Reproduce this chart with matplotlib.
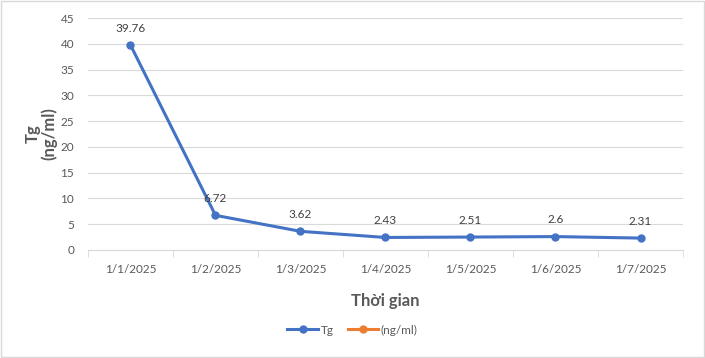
import matplotlib
matplotlib.use("Agg")
import matplotlib.pyplot as plt
from matplotlib.patches import Rectangle
import numpy as np

dates = ["1/1/2025", "1/2/2025", "1/3/2025", "1/4/2025", "1/5/2025", "1/6/2025", "1/7/2025"]
tg = [39.76, 6.72, 3.62, 2.43, 2.51, 2.6, 2.31]
tg_labels = ["39.76", "6.72", "3.62", "2.43", "2.51", "2.6", "2.31"]
ngml = []  # second series is empty in the source chart
y_ticks = [0, 5, 10, 15, 20, 25, 30, 35, 40, 45]

BLUE = "#4472C4"
ORANGE = "#ED7D31"
GRID = "#D9D9D9"
TEXT = "#595959"

plt.rcParams["font.family"] = ["Lato", "DejaVu Sans"]

fig = plt.figure(figsize=(7.05, 3.58), dpi=100)
fig.patches.append(Rectangle((0.002, 0.003), 0.996, 0.994, transform=fig.transFigure,
                             fill=False, edgecolor=GRID, lw=1))
ax = fig.add_axes([0.1248, 0.3017, 0.8440, 0.648])

x = np.arange(len(dates))
ax.plot(x, tg, color=BLUE, lw=2.2, marker="o", ms=5, label="Tg", zorder=3)
ax.plot(x[:len(ngml)], ngml, color=ORANGE, lw=2.2, marker="o", ms=5, label="(ng/ml)")

for xi, v, s in zip(x, tg, tg_labels):
    ax.annotate(s, (xi, v), xytext=(0, 8), textcoords="offset points",
                ha="center", va="bottom", fontsize=8.5, color="#404040")

ax.set_xlim(-0.5, len(dates) - 0.5)
ax.set_ylim(0, 45)
ax.set_yticks(y_ticks)
ax.yaxis.grid(True, color=GRID, lw=0.8)
ax.set_axisbelow(True)
for side in ["top", "right", "left"]:
    ax.spines[side].set_visible(False)
ax.spines["bottom"].set_color(GRID)
ax.tick_params(axis="y", length=0, labelsize=8.5, labelcolor=TEXT, pad=10)

ax.set_xticks(x)
ax.set_xticklabels(dates)
ax.tick_params(axis="x", which="major", length=0, labelsize=8.5, labelcolor=TEXT, pad=10)
ax.set_xticks(np.arange(-0.5, len(dates), 1.0), minor=True)
ax.tick_params(axis="x", which="minor", length=5, color=GRID, direction="out")

ax.set_ylabel("Tg\n(ng/ml)", fontsize=12, fontweight="bold", color=TEXT, linespacing=1.0)
ax.yaxis.set_label_coords(-0.052, 0.5)
ax.set_xlabel("Thời gian", fontsize=12, fontweight="bold", color=TEXT, labelpad=13)

leg = fig.legend(loc="center", bbox_to_anchor=(0.5, 0.078), ncol=2, frameon=False,
                 fontsize=8.5, handlelength=2.6, handletextpad=0.2, columnspacing=1.2,
                 labelcolor=TEXT)

fig.savefig("out.png", dpi=100)
